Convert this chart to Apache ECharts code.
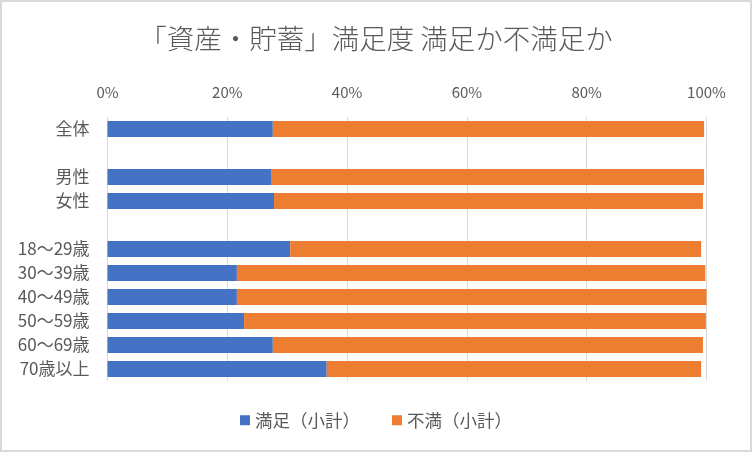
<!DOCTYPE html>
<html>
<head>
<meta charset="utf-8">
<script src="https://cdn.jsdelivr.net/npm/echarts@6/dist/echarts.min.js"></script>
<style>
html,body{margin:0;padding:0;background:#fff;}
#chart{width:752px;height:452px;}
</style>
</head>
<body>
<div id="chart"></div>
<script>
var categories = ['全体', '', '男性', '女性', '', '18〜29歳', '30〜39歳', '40〜49歳', '50〜59歳', '60〜69歳', '70歳以上'];
var satisfied = [27.6, null, 27.3, 27.8, null, 30.5, 21.6, 21.6, 22.8, 27.6, 36.6];
var dissatisfied = [72.0, null, 72.3, 71.6, null, 68.6, 78.2, 78.4, 77.1, 71.8, 62.5];
var seriesNames = ['満足（小計）', '不満（小計）'];
var xTicks = [0, 20, 40, 60, 80, 100];

var font = '"Noto Sans CJK JP", "Noto Sans", sans-serif';
var chart = echarts.init(document.getElementById('chart'), null, {renderer: 'canvas'});
chart.setOption({
  backgroundColor: '#ffffff',
  animation: false,
  textStyle: {fontFamily: font},
  title: {
    text: '「資産・貯蓄」満足度 満足か不満足か',
    left: 'center',
    top: 20,
    textStyle: {fontSize: 27.5, fontWeight: 300, color: '#595959', fontFamily: font}
  },
  graphic: [{
    type: 'rect',
    shape: {x: 1, y: 1, width: 750, height: 450},
    style: {fill: 'none', stroke: '#d9d9d9', lineWidth: 2},
    silent: true
  }],
  legend: {
    bottom: 18,
    left: 'center',
    itemWidth: 10,
    itemHeight: 10,
    itemGap: 32,
    icon: 'rect',
    textStyle: {fontSize: 17.5, color: '#595959', fontFamily: font},
    data: seriesNames
  },
  grid: {left: 107.5, right: 45.5, top: 117, bottom: 71, containLabel: false},
  xAxis: {
    type: 'value',
    position: 'top',
    min: xTicks[0],
    max: xTicks[xTicks.length - 1],
    interval: xTicks[1] - xTicks[0],
    axisLine: {show: false},
    axisTick: {show: false},
    axisLabel: {formatter: '{value}%', fontSize: 15, color: '#595959', margin: 17, fontFamily: font},
    splitLine: {show: true, lineStyle: {color: '#d9d9d9', width: 1}}
  },
  yAxis: {
    type: 'category',
    inverse: true,
    data: categories,
    axisLine: {show: false},
    axisTick: {show: false},
    axisLabel: {fontSize: 17, color: '#595959', margin: 18, fontFamily: font}
  },
  series: [{
    name: seriesNames[0],
    type: 'bar',
    stack: 'total',
    barWidth: 16,
    itemStyle: {color: '#4472C4'},
    data: satisfied
  }, {
    name: seriesNames[1],
    type: 'bar',
    stack: 'total',
    barWidth: 16,
    itemStyle: {color: '#ED7D31'},
    data: dissatisfied
  }]
});
</script>
</body>
</html>
